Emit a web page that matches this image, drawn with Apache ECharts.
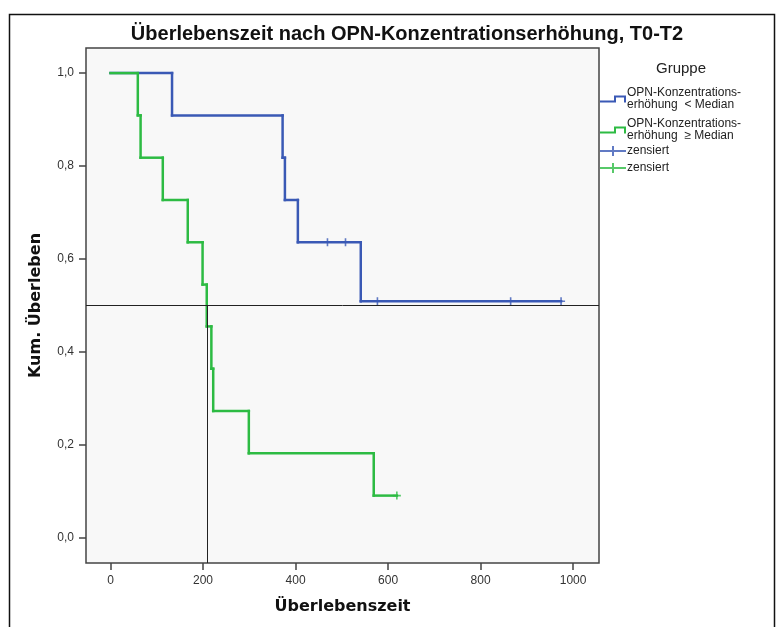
<!DOCTYPE html>
<html>
<head>
<meta charset="utf-8">
<script src="https://cdn.jsdelivr.net/npm/echarts@6/dist/echarts.min.js"></script>
<style>
  html, body { margin: 0; padding: 0; background: #fff; }
  #chart { width: 780px; height: 627px; }
</style>
</head>
<body>
<div id="chart"></div>
<script>
// Kaplan-Meier Stufen: Zeitpunkte und kum. Überleben nach dem Zeitpunkt
var blueTimes = [0, 133, 372, 377, 405, 541, 974];
var blueSurv = [1.0, 0.909, 0.818, 0.727, 0.636, 0.509, 0.509];
var greenTimes = [0, 59, 65, 113, 167, 199, 208, 218, 222, 299, 569, 619];
var greenSurv = [1.0, 0.909, 0.818, 0.727, 0.636, 0.545, 0.455, 0.364, 0.273, 0.182, 0.091, 0.091];

// zensierte Fälle
var blueCensTimes = [469, 508, 577, 865, 974];
var blueCensSurv = [0.636, 0.636, 0.509, 0.509, 0.509];
var greenCensTimes = [619];
var greenCensSurv = [0.091];

var xTicks = [0, 200, 400, 600, 800, 1000];
var yTicks = [0, 0.2, 0.4, 0.6, 0.8, 1.0];

var medianLevel = 0.5;
var medianTime = 210;

var groupNames = ['OPN-Konzentrations-\nerhöhung  < Median', 'OPN-Konzentrations-\nerhöhung  \u2265 Median'];

var xMin = -53, xMax = 1056, yMin = -0.054, yMax = 1.054;
var blue = '#3a59b5', green = '#2dbb43';

function pairs(xs, ys) {
  var out = [];
  for (var i = 0; i < xs.length; i++) out.push([xs[i], ys[i]]);
  return out;
}
// je Intervall: [t_i, S_i, t_i+1, S_i+1]
function steps(xs, ys) {
  var out = [];
  for (var i = 0; i < xs.length - 1; i++) out.push([xs[i], ys[i], xs[i + 1], ys[i + 1]]);
  return out;
}

function stepRenderer(color) {
  return function (params, api) {
    var a = api.coord([api.value(0), api.value(1)]);
    var b = api.coord([api.value(2), api.value(1)]);
    var c = api.coord([api.value(2), api.value(3)]);
    var st = { stroke: color, lineWidth: 2.5, lineCap: 'square' };
    return {
      type: 'group',
      children: [
        { type: 'line', shape: { x1: a[0], y1: a[1], x2: b[0], y2: b[1] }, style: st },
        { type: 'line', shape: { x1: b[0], y1: b[1], x2: c[0], y2: c[1] }, style: st }
      ]
    };
  };
}

var plusPath = 'path://M4,0 L6,0 L6,4 L10,4 L10,6 L6,6 L6,10 L4,10 L4,6 L0,6 L0,4 L4,4 Z';
var stepIcon = 'path://M0,8 L14,8 L14,3 L26,3 L26,10 L24,10 L24,5 L16,5 L16,10 L0,10 Z';
var censIcon = 'path://M0,4 L12,4 L12,0 L14,0 L14,4 L26,4 L26,6 L14,6 L14,10 L12,10 L12,6 L0,6 Z';

function legendAt(top, name, icon) {
  return {
    orient: 'vertical', left: 595, top: top,
    itemWidth: 26, itemHeight: 10, itemGap: 0, selectedMode: false,
    textStyle: { fontFamily: 'Liberation Sans', fontSize: 12, color: '#222', lineHeight: 12, padding: [0, 0, 0, -4] },
    data: [{ name: name, icon: icon }]
  };
}

var chart = echarts.init(document.getElementById('chart'));
var option = {
  animation: false,
  backgroundColor: '#fff',
  title: [
    {
      text: 'Überlebenszeit nach OPN-Konzentrationserhöhung, T0-T2',
      left: 402, top: 19, textAlign: 'center',
      textStyle: { fontFamily: 'Liberation Sans', fontWeight: 'bold', fontSize: 20, color: '#111' }
    },
    {
      text: 'Gruppe', left: 651, top: 56,
      textStyle: { fontFamily: 'Liberation Sans', fontWeight: 'normal', fontSize: 15, color: '#222' }
    }
  ],
  graphic: [{
    type: 'rect', left: 7, top: 12, silent: true,
    shape: { width: 765, height: 630 },
    style: { fill: 'none', stroke: '#111', lineWidth: 1.5 }
  }],
  legend: [
    legendAt(82, groupNames[0], stepIcon),
    legendAt(113, groupNames[1], stepIcon),
    legendAt(140, 'zensiert', censIcon),
    legendAt(157, 'zensiert ', censIcon)
  ],
  grid: {
    left: 86, right: 181, top: 48, bottom: 64,
    show: true, backgroundColor: '#f8f8f8', borderColor: '#444', borderWidth: 1.5
  },
  xAxis: {
    type: 'value', min: xMin, max: xMax,
    name: 'Überlebenszeit', nameLocation: 'middle', nameGap: 36,
    nameTextStyle: { fontFamily: 'DejaVu Sans', fontWeight: 'bold', fontSize: 16, color: '#111' },
    splitLine: { show: false },
    axisLine: { show: false, onZero: false },
    axisTick: { show: true, inside: false, length: 7, customValues: xTicks, lineStyle: { color: '#444', width: 1.5 } },
    axisLabel: {
      customValues: xTicks, margin: 12, fontFamily: 'Liberation Sans', fontSize: 12, color: '#333',
      formatter: function (v) { return String(v); }
    }
  },
  yAxis: {
    type: 'value', min: yMin, max: yMax,
    name: 'Kum. Überleben', nameLocation: 'middle', nameGap: 42,
    nameTextStyle: { fontFamily: 'DejaVu Sans', fontWeight: 'bold', fontSize: 16, color: '#111' },
    splitLine: { show: false },
    axisLine: { show: false, onZero: false },
    axisTick: { show: true, inside: false, length: 7, customValues: yTicks, lineStyle: { color: '#444', width: 1.5 } },
    axisLabel: {
      customValues: yTicks, margin: 12, fontFamily: 'Liberation Sans', fontSize: 12, color: '#333',
      formatter: function (v) { return v.toFixed(1).replace('.', ','); }
    }
  },
  series: [
    {
      name: groupNames[0], type: 'custom', renderItem: stepRenderer(blue),
      data: steps(blueTimes, blueSurv), encode: { x: [0, 2], y: [1, 3] },
      itemStyle: { color: blue }, z: 2
    },
    {
      name: groupNames[1], type: 'custom', renderItem: stepRenderer(green),
      data: steps(greenTimes, greenSurv), encode: { x: [0, 2], y: [1, 3] },
      itemStyle: { color: green }, z: 3
    },
    {
      name: 'zensiert', type: 'scatter', symbol: plusPath, symbolSize: 8,
      data: pairs(blueCensTimes, blueCensSurv), itemStyle: { color: blue }, z: 4
    },
    {
      name: 'zensiert ', type: 'scatter', symbol: plusPath, symbolSize: 8,
      data: pairs(greenCensTimes, greenCensSurv), itemStyle: { color: green }, z: 4,
      markLine: {
        silent: true, symbol: 'none', label: { show: false },
        lineStyle: { color: '#222', width: 1, type: 'solid' },
        data: [
          [{ coord: [xMin, medianLevel] }, { coord: [xMax, medianLevel] }],
          [{ coord: [medianTime, medianLevel] }, { coord: [medianTime, yMin] }]
        ]
      }
    }
  ]
};
chart.setOption(option);
</script>
</body>
</html>
